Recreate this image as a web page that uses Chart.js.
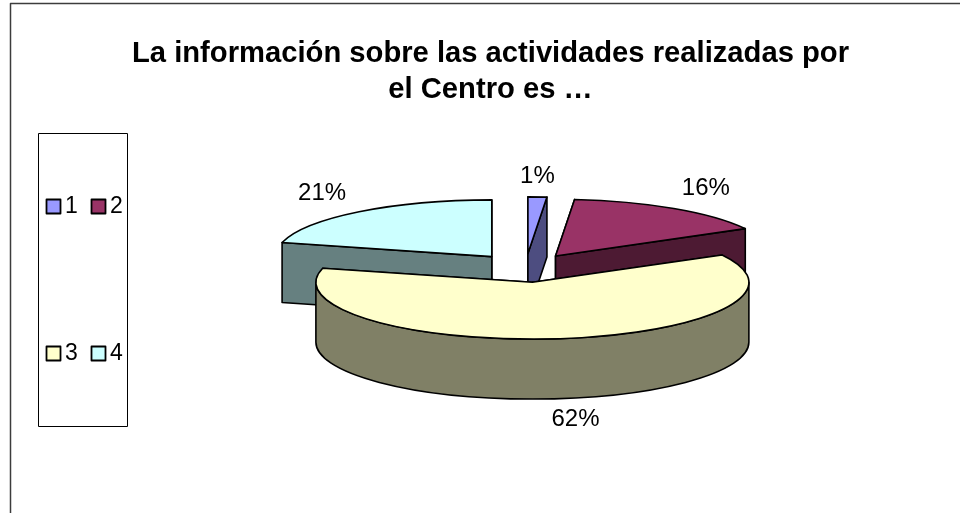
<!DOCTYPE html>
<html>
<head>
<meta charset="utf-8">
<style>html,body{margin:0;padding:0;background:#fff}canvas{display:block}</style>
<script src="https://cdn.jsdelivr.net/npm/chart.js"></script>
</head>
<body>
<canvas id="c" width="960" height="513"></canvas>
<script>
const titleLines = ['La información sobre las actividades realizadas por', 'el Centro es …'];
const categories = ['1', '2', '3', '4'];
const values = [1.4, 15.6, 62, 21];
const topColors = ['#9999FF', '#993366', '#FFFFCC', '#CCFFFF'];
const sideColors = ['#4D4D80', '#4D1A33', '#808066', '#668080'];

const FONT = '"Liberation Sans", Arial, sans-serif';
const RADIUS = 216.5, SQUASH = 0.262, DEPTH = 60, EXPLODE = 55;
const PIE_SHIFT_X = 35;
const LABEL_SHIFT = [[0, -21], [32, -20], [16, 21], [-37, -18]];

function centerY(chart) { return (chart.chartArea.top + chart.chartArea.bottom) / 2; }
function inSquash(chart, fn) {
  const ctx = chart.ctx, cy = centerY(chart);
  ctx.save();
  ctx.translate(0, cy); ctx.scale(1, SQUASH); ctx.translate(0, -cy);
  fn(ctx);
  ctx.restore();
}
function paint(ctx, fill) {
  ctx.fillStyle = fill; ctx.fill();
  ctx.strokeStyle = '#000'; ctx.lineWidth = 1.6; ctx.lineJoin = 'round'; ctx.stroke();
}
const pie3d = {
  id: 'pie3d',
  beforeDatasetsDraw(chart) {
    const ctx = chart.ctx, arcs = chart.getDatasetMeta(0).data;
    const cx = (chart.chartArea.left + chart.chartArea.right) / 2 + PIE_SHIFT_X, cy = centerY(chart);
    const d = DEPTH / SQUASH;
    arcs.forEach(a => {
      const mid = (a.startAngle + a.endAngle) / 2;
      a.x = cx + Math.cos(mid) * EXPLODE;
      a.y = cy + Math.sin(mid) * EXPLODE;
    });
    const order = arcs.map((a, i) => i).sort((p, q) =>
      Math.sin((arcs[p].startAngle + arcs[p].endAngle) / 2) - Math.sin((arcs[q].startAngle + arcs[q].endAngle) / 2));
    order.forEach(i => {
      const a = arcs[i], r = a.outerRadius;
      [a.startAngle, a.endAngle].forEach(t => {
        ctx.beginPath();
        inSquash(chart, () => {
          ctx.moveTo(a.x, a.y);
          ctx.lineTo(a.x + Math.cos(t) * r, a.y + Math.sin(t) * r);
          ctx.lineTo(a.x + Math.cos(t) * r, a.y + Math.sin(t) * r + d);
          ctx.lineTo(a.x, a.y + d);
          ctx.closePath();
        });
        paint(ctx, sideColors[i]);
      });
      const s = Math.max(a.startAngle, 0), e = Math.min(a.endAngle, Math.PI);
      if (e > s) {
        ctx.beginPath();
        inSquash(chart, () => {
          ctx.arc(a.x, a.y, r, s, e);
          ctx.arc(a.x, a.y + d, r, e, s, true);
          ctx.closePath();
        });
        paint(ctx, sideColors[i]);
      }
    });
    ctx.save();
    ctx.translate(0, cy); ctx.scale(1, SQUASH); ctx.translate(0, -cy);
  },
  afterDatasetsDraw(chart) {
    const ctx = chart.ctx, arcs = chart.getDatasetMeta(0).data;
    ctx.restore();
    arcs.forEach(a => {
      ctx.beginPath();
      inSquash(chart, () => {
        ctx.moveTo(a.x, a.y);
        ctx.arc(a.x, a.y, a.outerRadius, a.startAngle, a.endAngle);
        ctx.closePath();
      });
      ctx.strokeStyle = '#000'; ctx.lineWidth = 1.6; ctx.lineJoin = 'round'; ctx.stroke();
    });
    const cy = centerY(chart);
    ctx.save();
    ctx.font = '24px ' + FONT; ctx.fillStyle = '#000';
    ctx.textAlign = 'center'; ctx.textBaseline = 'middle';
    arcs.forEach((a, i) => {
      const mid = (a.startAngle + a.endAngle) / 2;
      const px = a.x + Math.cos(mid) * a.outerRadius;
      let py = cy + (a.y + Math.sin(mid) * a.outerRadius - cy) * SQUASH;
      if (Math.sin(mid) > 0) py += DEPTH;
      ctx.fillText(Math.round(values[i]) + '%', px + LABEL_SHIFT[i][0], py + LABEL_SHIFT[i][1]);
    });
    ctx.restore();
  },
  afterDraw(chart) {
    const ctx = chart.ctx;
    ctx.save();
    ctx.strokeStyle = '#3c3c3c'; ctx.lineWidth = 1.5;
    ctx.beginPath(); ctx.moveTo(10.5, 513); ctx.lineTo(10.5, 3.5); ctx.lineTo(960, 3.5); ctx.stroke();
    ctx.strokeStyle = '#000'; ctx.lineWidth = 1;
    ctx.strokeRect(38.5, 133.5, 89, 293);
    const cols = [46, 91], rows = [199, 346];
    ctx.font = '23px ' + FONT; ctx.textBaseline = 'middle'; ctx.textAlign = 'left';
    categories.forEach((name, i) => {
      const x = cols[i % 2], y = rows[Math.floor(i / 2)];
      ctx.fillStyle = topColors[i];
      ctx.fillRect(x + .5, y + .5, 14, 14);
      ctx.strokeStyle = '#000'; ctx.lineWidth = 1.8;
      ctx.strokeRect(x + .5, y + .5, 14, 14);
      ctx.fillStyle = '#000';
      ctx.fillText(name, x + 19, y + 8);
    });
    ctx.restore();
  }
};
new Chart(document.getElementById('c'), {
  type: 'pie',
  data: {
    labels: categories,
    datasets: [{ data: values, backgroundColor: topColors, borderWidth: 0, radius: RADIUS, clip: false }]
  },
  options: {
    responsive: false,
    animation: false,
    events: [],
    layout: { padding: { left: 21, right: 0, top: 0, bottom: 85 } },
    plugins: {
      legend: { display: false },
      tooltip: { enabled: false },
      title: {
        display: true,
        text: titleLines,
        color: '#000',
        font: { family: FONT, size: 29.2, weight: 'bold', lineHeight: 1.233 },
        padding: { top: 36, bottom: 0 }
      }
    }
  },
  plugins: [pie3d]
});
</script>
</body>
</html>
